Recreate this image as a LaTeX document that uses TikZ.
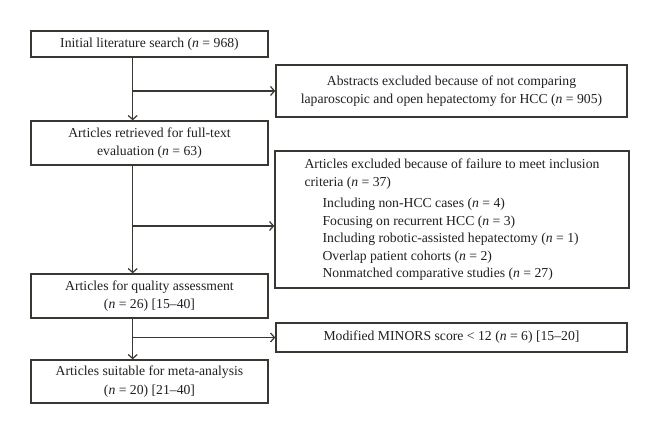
\documentclass[tikz,border=0pt]{standalone}
\usepackage{fontspec}
\setmainfont{Liberation Serif}
\usetikzlibrary{arrows.meta,calc}
\definecolor{ln}{HTML}{3A3632}
\definecolor{tx}{HTML}{231F20}
\tikzset{
  box/.style={draw=ln, line width=1.4pt, text=tx, inner sep=0pt, align=center, font=\fontsize{13.7}{18.5}\selectfont},
  arr/.style={draw=ln, line width=1.4pt, -{Straight Barb[length=4pt,width=9pt,line width=1.2pt]}},
  ln/.style={draw=ln, line width=1.4pt}
}
\newcommand{\nn}{\textit{n}}
\begin{document}
\begin{tikzpicture}[x=1pt,y=-1pt]
\useasboundingbox[fill=white] (0,0) rectangle (660,435);
\node[box, minimum width=237pt, minimum height=26pt] (b1) at (149.5,44) {Initial literature search (\nn{} = 968)};
\node[box, minimum width=351pt, minimum height=52pt] (b2) at (451.5,91) {Abstracts excluded because of not comparing\\laparoscopic and open hepatectomy for HCC (\nn{} = 905)};
\node[box, minimum width=237pt, minimum height=44pt] (b3) at (149.5,143) {Articles retrieved for full-text\\evaluation (\nn{} = 63)};
\node[box, align=left, minimum width=354pt, minimum height=137pt, font=\fontsize{13.7}{17.5}\selectfont] (b4) at (452,219.5) {Articles excluded because of failure to meet inclusion\\[0.5pt]criteria (\nn{} = 37)\\[4pt]
\hspace*{18pt}Including non-HCC cases (\nn{} = 4)\\
\hspace*{18pt}Focusing on recurrent HCC (\nn{} = 3)\\
\hspace*{18pt}Including robotic-assisted hepatectomy (\nn{} = 1)\\
\hspace*{18pt}Overlap patient cohorts (\nn{} = 2)\\
\hspace*{18pt}Nonmatched comparative studies (\nn{} = 27)};
\node[box, minimum width=237pt, minimum height=44pt] (b5) at (149.5,296) {Articles for quality assessment\\(\nn{} = 26) [15--40]};
\node[box, minimum width=351pt, minimum height=29pt] (b6) at (451.5,337.5) {Modified MINORS score < 12 (\nn{} = 6) [15--20]};
\node[box, minimum width=237pt, minimum height=43pt] (b7) at (149.5,381.5) {Articles suitable for meta-analysis\\(\nn{} = 20) [21--40]};
\coordinate (sp) at (132.7,0);
\coordinate (a2) at (0,226);
\draw[arr] (b1.south -| sp) -- (b3.north -| sp);
\draw[arr] (b3.south -| sp) -- (b5.north -| sp);
\draw[arr] (b5.south -| sp) -- (b7.north -| sp);
\draw[arr] (sp |- b2.west) -- (b2.west);
\draw[arr] (sp |- a2) -- (b4.west |- a2);
\draw[arr] (sp |- b6.west) -- (b6.west);
\end{tikzpicture}
\end{document}
